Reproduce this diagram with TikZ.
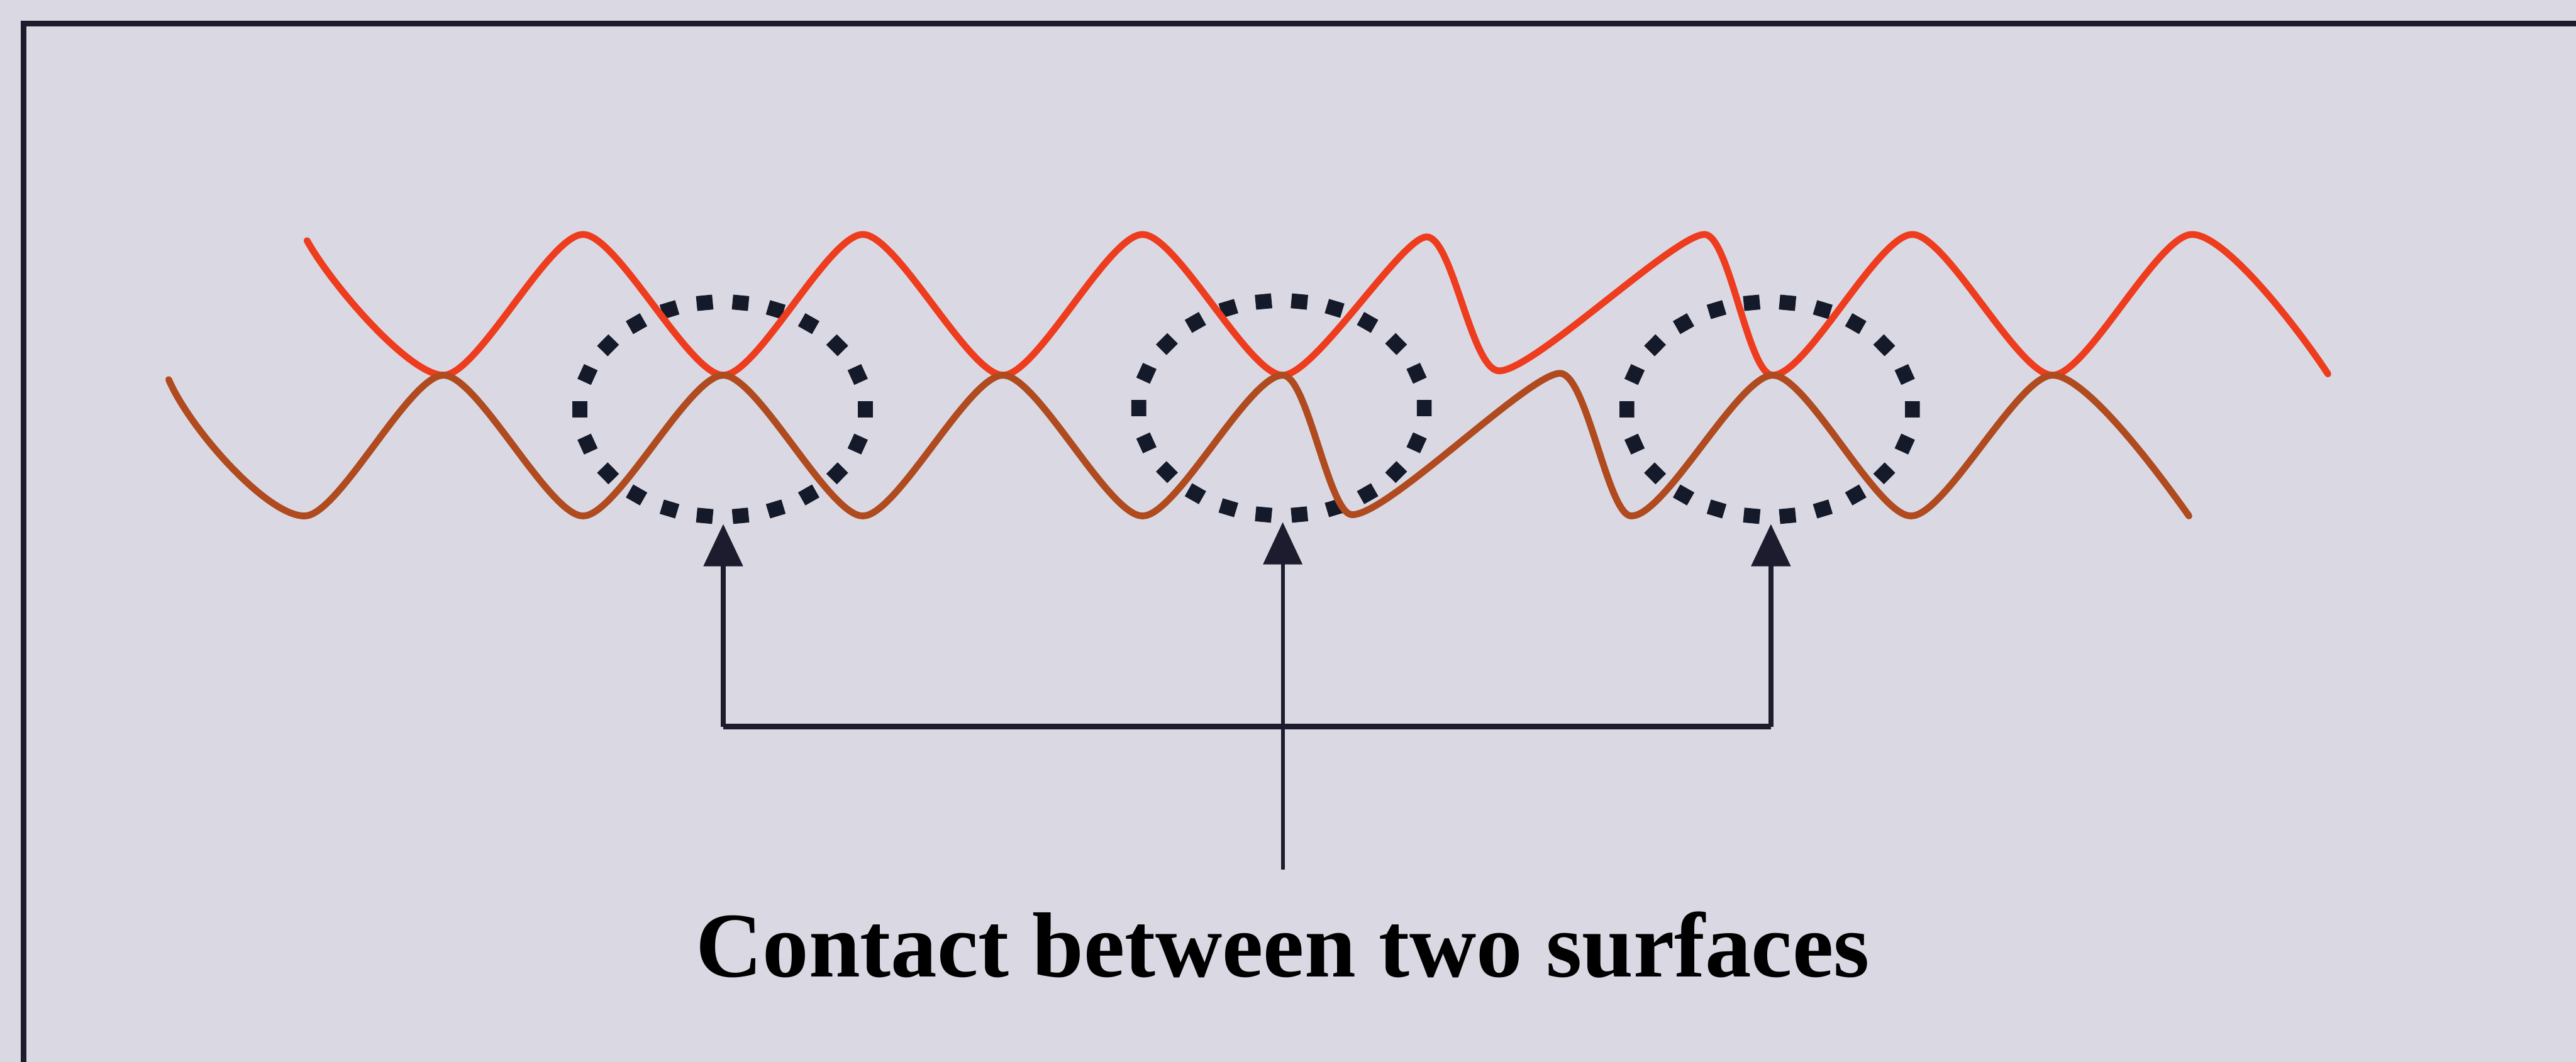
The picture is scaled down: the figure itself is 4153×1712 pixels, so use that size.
\documentclass[tikz,border=0pt]{standalone}
\usepackage{fontspec}
\setmainfont{Liberation Serif}
\usetikzlibrary{arrows.meta,decorations.markings}
\definecolor{bgc}{RGB}{218,217,227}
\definecolor{framec}{RGB}{28,28,46}
\definecolor{redc}{RGB}{238,60,30}
\definecolor{brownc}{RGB}{176,74,31}
\definecolor{dotc}{RGB}{20,26,42}
\tikzset{
  frameline/.style={draw=framec,line width=2.6pt},
  topsurf/.style={draw=redc,line width=3.1pt,line cap=round},
  botsurf/.style={draw=brownc,line width=3.1pt,line cap=round},
  dotring/.style={decoration={markings,
      mark=between positions 0 and 0.99 step 0.0454545 with {\fill[dotc] (-13,-12) rectangle (13,12);}},
      decorate},
  pointer/.style={draw=framec,line width=2.3pt,-{Triangle[length=0.68cm,width=0.62cm]}},
  barline/.style={draw=framec,line width=2.6pt},
  caption/.style={font=\fontsize{42.4}{50}\selectfont\bfseries,text=black,inner sep=0pt}
}
\begin{document}
\begin{tikzpicture}[x=0.01cm,y=-0.01cm]
\useasboundingbox (0,0) rectangle (4153,1712);
\fill[bgc] (0,0) rectangle (4153,1712);
% frame (top and left edges visible)
\draw[frameline] (4153,38) -- (38,38) -- (38,1712);

% dotted contact rings
\coordinate (c1) at (1165,660);
\coordinate (c2) at (2066,658);
\coordinate (c3) at (2853,660);
\path[dotring] (c1) ellipse [x radius=2.3cm, y radius=1.73cm];
\path[dotring] (c2) ellipse [x radius=2.3cm, y radius=1.73cm];
\path[dotring] (c3) ellipse [x radius=2.3cm, y radius=1.73cm];

% upper (red) surface
\draw[topsurf] (495,388) .. controls (535,460) and (660,605) .. (715,605)
 .. controls (770,605) and (885,378) .. (940,378)
 .. controls (995,378) and (1111,605) .. (1166,605)
 .. controls (1221,605) and (1336,378) .. (1391,378)
 .. controls (1446,378) and (1562,605) .. (1617,605)
 .. controls (1672,605) and (1787,378) .. (1842,378)
 .. controls (1897,378) and (2013,605) .. (2068,605)
 .. controls (2120,605) and (2260,382) .. (2300,382)
 .. controls (2342,382) and (2372,598) .. (2417,598)
 .. controls (2472,598) and (2700,378) .. (2748,378)
 .. controls (2788,378) and (2818,605) .. (2858,605)
 .. controls (2913,605) and (3028,378) .. (3083,378)
 .. controls (3138,378) and (3254,605) .. (3309,605)
 .. controls (3364,605) and (3479,378) .. (3534,378)
 .. controls (3590,378) and (3712,540) .. (3753,603);

% lower (brown) surface
\draw[botsurf] (272,612) .. controls (305,690) and (430,832) .. (491,832)
 .. controls (546,832) and (660,605) .. (715,605)
 .. controls (770,605) and (885,832) .. (940,832)
 .. controls (995,832) and (1111,605) .. (1166,605)
 .. controls (1221,605) and (1336,832) .. (1391,832)
 .. controls (1446,832) and (1562,605) .. (1617,605)
 .. controls (1672,605) and (1787,832) .. (1842,832)
 .. controls (1897,832) and (2013,605) .. (2068,605)
 .. controls (2108,605) and (2142,830) .. (2180,830)
 .. controls (2238,830) and (2465,602) .. (2515,602)
 .. controls (2558,602) and (2592,832) .. (2630,832)
 .. controls (2685,832) and (2803,605) .. (2858,605)
 .. controls (2913,605) and (3026,832) .. (3081,832)
 .. controls (3136,832) and (3254,605) .. (3309,605)
 .. controls (3364,605) and (3485,770) .. (3529,832);

% arrow targets and bar
\coordinate (t1) at (1166,845);
\coordinate (t2) at (2068,842);
\coordinate (t3) at (2855,845);
\coordinate (b1) at (1166,1172);
\coordinate (b3) at (2855,1172);
\coordinate (stem) at (2068,1402);
\node[caption,anchor=base] (lbl) at (2068,1575) {Contact between two surfaces};

\draw[barline] (b1) -- (b3);
\draw[pointer] (b1) -- (t1);
\draw[pointer] (b3) -- (t3);
\draw[pointer,line width=1.8pt] (stem) -- (t2);
\end{tikzpicture}
\end{document}
